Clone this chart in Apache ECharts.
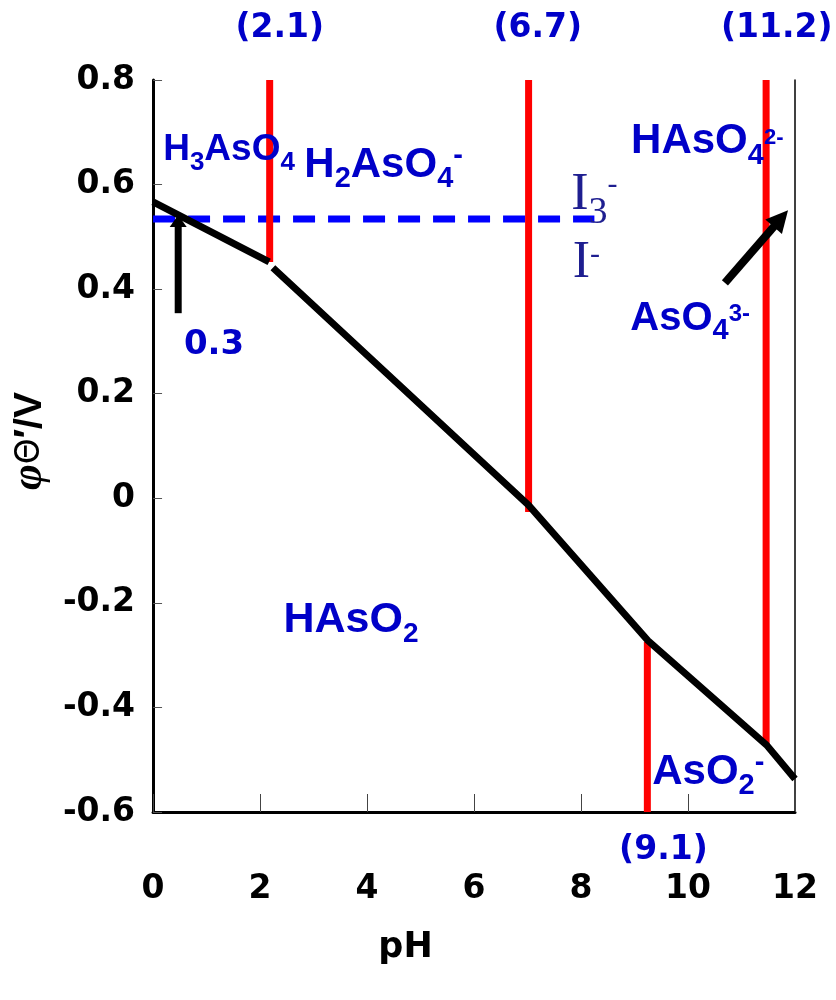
<!DOCTYPE html>
<html><head><meta charset="utf-8">
<script src="https://cdn.jsdelivr.net/npm/echarts@6/dist/echarts.min.js"></script>
<style>html,body{margin:0;padding:0;background:#fff}#c{width:836px;height:1000px}</style>
</head><body><div id="c"></div>
<script>
// ---------- data ----------
const xTicks = ['0', '2', '4', '6', '8', '10', '12'];
const yTicks = ['-0.6', '-0.4', '-0.2', '0', '0.2', '0.4', '0.6', '0.8'];

// conditional potential curve (two segments, gap at pH 2.2)
const curve1PH = [0, 2.17];
const curve1V  = [0.567, 0.452];
const curve2PH = [2.24, 7.02, 9.25, 11.47, 12.0];
const curve2V  = [0.441, -0.013, -0.272, -0.472, -0.537];

// red vertical pKa lines
const pkaPH     = [2.18, 7.02, 9.24, 11.46];
const pkaTopV   = [0.8, 0.8, -0.275, 0.8];
const pkaBottomV = [0.452, -0.026, -0.6, -0.47];

// I3-/I- potential (dashed)
const iodPH = [0, 8.25];
const iodV  = [0.534, 0.534];

// arrows: tail and tip
const arrowTailPH = [0.47, 10.69];
const arrowTailV  = [0.354, 0.412];
const arrowTipPH  = [0.47, 11.87];
const arrowTipV   = [0.542, 0.551];

// annotations
const annoText = ['(2.1)', '(6.7)', '(11.2)', '(9.1)', '0.3',
  '{m|H}{s|3}{m|AsO}{s|4}', '{m|H}{s|2}{m|AsO}{s|4}{u|-}', '{m|HAsO}{s|4}{u|2-}',
  '{m|AsO}{s|4}{u|3-}', '{m|HAsO}{s|2}', '{m|AsO}{s|2}{u|-}',
  '{m|I}{s|3}{u|-}', '{m|I}{u|-}'];
const annoPH = [2.37, 7.19, 11.66, 9.54, 1.14, 1.42, 4.31, 10.36, 10.04, 3.70, 10.38, 8.25, 8.10];
const annoV  = [0.899, 0.899, 0.899, -0.673, 0.292, 0.674, 0.647, 0.689, 0.349, -0.225, -0.514, 0.590, 0.450];

// ---------- styles ----------
const BLUE = '#0000C8';
const NAVY = '#1E1E90';
const NUM = {fam: 'DejaVu Sans', weight: 'bold', color: BLUE};
const SP  = {fam: 'Liberation Sans', weight: 'bold', color: BLUE};
const SER = {fam: 'Liberation Serif', weight: 'normal', color: NAVY};
const annoStyle = [
  Object.assign({F: 33}, NUM), Object.assign({F: 33}, NUM), Object.assign({F: 33}, NUM),
  Object.assign({F: 33}, NUM), Object.assign({F: 34}, NUM),
  Object.assign({F: 37, sF: 26, dS: 13}, SP),
  Object.assign({F: 42, sF: 29, dS: 14, uF: 29, dU: 9}, SP),
  Object.assign({F: 42, sF: 29, dS: 14, uF: 22, dU: 4}, SP),
  Object.assign({F: 40, sF: 29, dS: 12, uF: 24, dU: 5}, SP),
  Object.assign({F: 43, sF: 28, dS: 15}, SP),
  Object.assign({F: 42, sF: 29, dS: 14, uF: 29, dU: 9}, SP),
  Object.assign({F: 52, sF: 38, dS: 18, uF: 30, dU: 10}, SER),
  Object.assign({F: 52, uF: 30, dU: 8}, SER)
];
const arrowHeadLen = [12, 22];
const arrowHeadWid = [17, 22];
const arrowShaft   = [7, 8];

function mkRich(o) {
  const F = o.F, sF = o.sF || 0, uF = o.uF || 0, dS = o.dS || 0, dU = o.dU || 0;
  const P = Math.max(0, uF ? dU + uF / 2 - F / 2 : 0);
  const c = P + F / 2;
  const base = {fontFamily: o.fam, fontWeight: o.weight, color: o.color, verticalAlign: 'top'};
  const rich = {m: Object.assign({}, base, {fontSize: F, lineHeight: F, padding: [P, 0, 0, 0]})};
  let H = P + F;
  if (sF) {
    const sP = c + dS - sF / 2;
    rich.s = Object.assign({}, base, {fontSize: sF, lineHeight: sF, padding: [sP, 0, 0, 0]});
    H = Math.max(H, sP + sF);
  }
  if (uF) {
    const uP = c - dU - uF / 2;
    rich.u = Object.assign({}, base, {fontSize: uF, lineHeight: uF, padding: [uP, 0, 0, 0]});
    H = Math.max(H, uP + uF);
  }
  return {rich: rich, offsetY: H / 2 - c};
}

const annoData = annoText.map(function (t, i) {
  const st = annoStyle[i];
  const r = mkRich(st);
  const txt = t.indexOf('{') === 0 ? t : '{m|' + t + '}';
  return {
    value: [annoPH[i], annoV[i]],
    label: {show: true, position: 'inside', formatter: txt, rich: r.rich,
            offset: [0, r.offsetY], textBorderWidth: 0, opacity: 1}
  };
});

const zip = (a, b) => a.map((v, i) => [v, b[i]]);

const series = [];
series.push({
  type: 'line', data: zip(iodPH, iodV), symbol: 'none', z: 2, silent: true,
  lineStyle: {color: '#0000FF', width: 7, type: [22, 13], cap: 'butt'}
});
pkaPH.forEach(function (p, i) {
  series.push({
    type: 'line', data: [[p, pkaTopV[i]], [p, pkaBottomV[i]]], symbol: 'none', z: 3, silent: true,
    lineStyle: {color: '#FF0000', width: 7, cap: 'butt'}
  });
});
series.push({
  type: 'line', data: zip(curve1PH, curve1V), symbol: 'none', z: 4, silent: true,
  lineStyle: {color: '#000000', width: 7, cap: 'butt', join: 'miter'}
});
series.push({
  type: 'line', data: zip(curve2PH, curve2V), symbol: 'none', z: 4, silent: true,
  lineStyle: {color: '#000000', width: 7, cap: 'butt', join: 'miter'}
});
series.push({
  type: 'custom', z: 5, silent: true, clip: false,
  data: arrowTailPH.map((v, i) => [v, arrowTailV[i], arrowTipPH[i], arrowTipV[i]]),
  renderItem: function (params, api) {
    const i = params.dataIndex;
    const t = api.coord([api.value(0), api.value(1)]);
    const h = api.coord([api.value(2), api.value(3)]);
    let dx = h[0] - t[0], dy = h[1] - t[1];
    const L = Math.sqrt(dx * dx + dy * dy);
    dx /= L; dy /= L;
    const nx = -dy, ny = dx;
    const hl = arrowHeadLen[i], hw = arrowHeadWid[i] / 2;
    const b = [h[0] - dx * hl, h[1] - dy * hl];
    return {
      type: 'group',
      children: [
        {type: 'line', shape: {x1: t[0], y1: t[1], x2: b[0] + dx, y2: b[1] + dy},
         style: {stroke: '#000', lineWidth: arrowShaft[i], lineCap: 'butt'}},
        {type: 'polygon', shape: {points: [h, [b[0] + nx * hw, b[1] + ny * hw], [b[0] - nx * hw, b[1] - ny * hw]]},
         style: {fill: '#000'}}
      ]
    };
  }
});
series.push({
  type: 'scatter', data: annoData, symbolSize: 1, clip: false, z: 6, silent: true,
  itemStyle: {color: 'rgba(0,0,0,0)'}
});

const chart = echarts.init(document.getElementById('c'));
chart.setOption({
  animation: false,
  backgroundColor: '#fff',
  grid: {left: 152, right: 41, top: 80, bottom: 188, containLabel: false},
  xAxis: {
    type: 'value', min: 0, max: 12, interval: 2,
    name: 'pH', nameLocation: 'middle', nameGap: 118,
    nameTextStyle: {fontFamily: 'DejaVu Sans', fontWeight: 'bold', fontSize: 35, color: '#000', padding: [0, 137, 0, 0]},
    axisLine: {show: true, onZero: false, lineStyle: {color: '#000', width: 3}},
    axisTick: {show: true, inside: true, length: 18, lineStyle: {color: '#444', width: 1}},
    axisLabel: {margin: 61, fontFamily: 'DejaVu Sans', fontWeight: 'bold', fontSize: 33, color: '#000',
      formatter: function (v) { return xTicks[Math.round(v / 2)]; }},
    splitLine: {show: false}
  },
  yAxis: [{
    type: 'value', min: -0.6, max: 0.8, interval: 0.2,
    name: '{p|φ}{t|Θ}{b|′/V}', nameLocation: 'middle', nameGap: 93, nameRotate: 90,
    nameTextStyle: {
      padding: [0, 0, 0, 10],
      rich: {
        p: {fontFamily: 'Liberation Serif', fontStyle: 'italic', fontWeight: 'bold', fontSize: 44, color: '#000'},
        t: {fontFamily: 'DejaVu Sans', fontSize: 33, color: '#000'},
        b: {fontFamily: 'Liberation Sans', fontWeight: 'bold', fontSize: 39, color: '#000'}
      }
    },
    axisLine: {show: true, onZero: false, lineStyle: {color: '#000', width: 3}},
    axisTick: {show: true, inside: true, length: 9, lineStyle: {color: '#555', width: 1}},
    axisLabel: {margin: 18, fontFamily: 'DejaVu Sans', fontWeight: 'bold', fontSize: 33, color: '#000',
      formatter: function (v) { return yTicks[Math.round((v + 0.6) / 0.2)]; }},
    splitLine: {show: false}
  }, {
    type: 'value', min: -0.6, max: 0.8, interval: 0.2, position: 'right',
    axisLine: {show: true, onZero: false, lineStyle: {color: '#000', width: 1.5}},
    axisTick: {show: false}, axisLabel: {show: false}, splitLine: {show: false}
  }],
  series: series
});
</script>
</body></html>
